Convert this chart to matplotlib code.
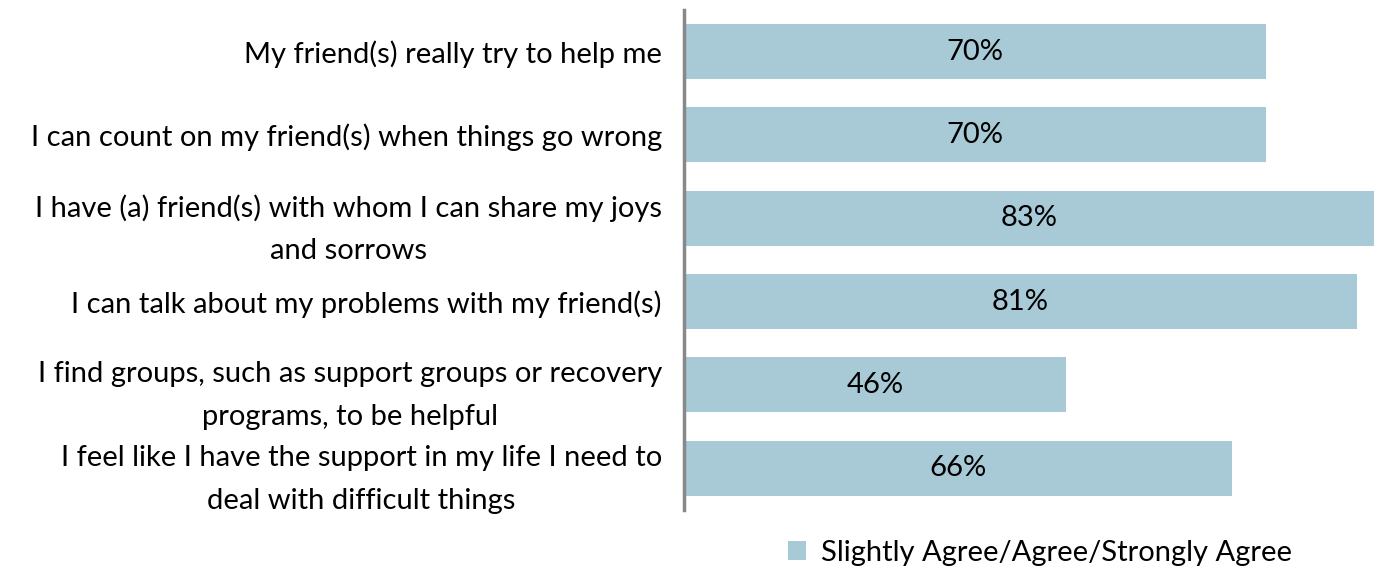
import matplotlib
matplotlib.use("Agg")
import matplotlib.pyplot as plt
from matplotlib.patches import Patch

categories = [
    "My friend(s) really try to help me",
    "I can count on my friend(s) when things go wrong",
    "I have (a) friend(s) with whom I can share my joys\nand sorrows",
    "I can talk about my problems with my friend(s)",
    "I find groups, such as support groups or recovery\nprograms, to be helpful",
    "I feel like I have the support in my life I need to\ndeal with difficult things",
]
values = [70, 70, 83, 81, 46, 66]
series_name = "Slightly Agree/Agree/Strongly Agree"
bar_color = "#A8CAD6"

plt.rcParams["font.family"] = ["Lato", "DejaVu Sans"]
FS = 21

fig = plt.figure(figsize=(13.82, 5.69), dpi=100)
ax = fig.add_axes([684 / 1382, 1 - 510 / 569, 698 / 1382, 500 / 569])

y = list(range(len(categories)))
ax.barh(y, values, height=0.66, color=bar_color)
for yi, v in zip(y, values):
    ax.text(v / 2, yi, f"{v}%", ha="center", va="center", fontsize=FS, color="#000000")

ax.set_ylim(len(categories) - 0.5, -0.5)
ax.set_xlim(0, 84)
ax.set_xticks([])
ax.set_yticks(y)
ax.set_yticklabels(categories, fontsize=FS, ha="right", linespacing=1.8,
                   multialignment="center")
ax.tick_params(axis="y", length=0, pad=16)
for s in ["top", "right", "bottom"]:
    ax.spines[s].set_visible(False)
ax.spines["left"].set_color("#888888")
ax.spines["left"].set_linewidth(2.5)

handle = Patch(facecolor=bar_color, edgecolor="none")
fig.legend([handle], [series_name], loc="center", bbox_to_anchor=(1040 / 1382, 1 - 553 / 569),
           frameon=False, fontsize=FS, handlelength=0.6, handleheight=0.6, handletextpad=0.5)

fig.savefig("out.png", dpi=100)
